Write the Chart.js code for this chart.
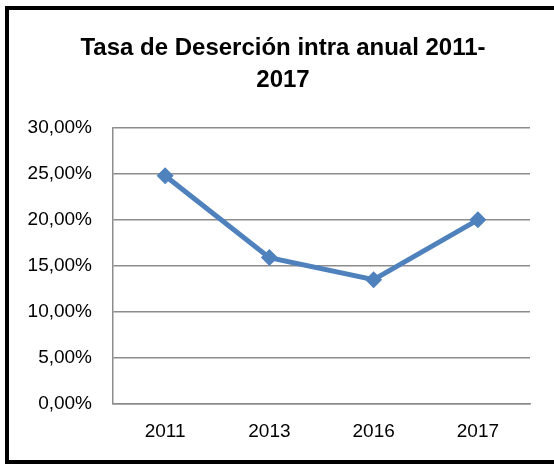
<!DOCTYPE html>
<html>
<head>
<meta charset="utf-8">
<script src="https://cdn.jsdelivr.net/npm/chart.js@4/dist/chart.umd.min.js"></script>
<style>
  html, body { margin: 0; padding: 0; background: #fff; overflow: hidden; }
  #wrap { position: relative; width: 554px; height: 464px; overflow: hidden; }
  #frame { position: absolute; left: 5px; top: 6px; width: 600px; height: 458px; box-sizing: border-box; border: 4px solid #000; }
  #c { position: absolute; left: 0; top: 0; }
</style>
</head>
<body>
<div id="wrap">
  <div id="frame"></div>
  <canvas id="c" width="554" height="464"></canvas>
</div>
<script>
const titleLines = ["Tasa de Deserción intra anual 2011-", "2017"];
const categories = ["2011", "2013", "2016", "2017"];
const dropoutRate = [24.8, 15.9, 13.5, 20.0];
const yTickValues = [0, 5, 10, 15, 20, 25, 30];
const yTickLabels = ["0,00%", "5,00%", "10,00%", "15,00%", "20,00%", "25,00%", "30,00%"];

const FONT = "'Liberation Sans', Arial, sans-serif";

const shiftTitle = {
  id: 'shiftTitle',
  afterLayout(chart) {
    if (chart.titleBlock) { chart.titleBlock.left = 36; }
  }
};

new Chart(document.getElementById('c'), {
  type: 'line',
  data: {
    labels: categories,
    datasets: [{
      label: 'Tasa',
      data: dropoutRate,
      borderColor: '#4F81BD',
      backgroundColor: '#4F81BD',
      borderWidth: 5,
      pointStyle: 'rectRot',
      pointRadius: 8.5,
      pointHoverRadius: 8.5,
      pointBorderWidth: 0,
      tension: 0,
      fill: false
    }]
  },
  plugins: [shiftTitle],
  options: {
    responsive: false,
    animation: false,
    layout: { padding: { left: 0, right: 24, top: 0, bottom: 0 } },
    plugins: {
      legend: { display: false },
      tooltip: { enabled: false },
      title: {
        display: true,
        text: titleLines,
        color: '#000',
        font: { family: FONT, size: 24, weight: 'bold', lineHeight: 1.35 },
        padding: { top: 32, bottom: 31 }
      }
    },
    scales: {
      x: {
        offset: true,
        grid: { display: false, drawTicks: false },
        border: { display: true, color: '#8c8c8c', width: 1.5 },
        ticks: { color: '#000', font: { family: FONT, size: 19 }, padding: 16 },
        afterFit: (s) => { s.height = 60; }
      },
      y: {
        min: 0, max: 30,
        afterBuildTicks: (s) => { s.ticks = yTickValues.map(v => ({ value: v })); },
        grid: { color: '#8c8c8c', lineWidth: 1.5, drawTicks: false },
        border: { display: true, color: '#8c8c8c', width: 1.5 },
        ticks: {
          color: '#000',
          font: { family: FONT, size: 19 },
          padding: 21,
          callback: (v) => { const i = yTickValues.indexOf(v); return i >= 0 ? yTickLabels[i] : ''; }
        },
        afterFit: (s) => { s.width = 113; }
      }
    }
  }
});
</script>
</body>
</html>
